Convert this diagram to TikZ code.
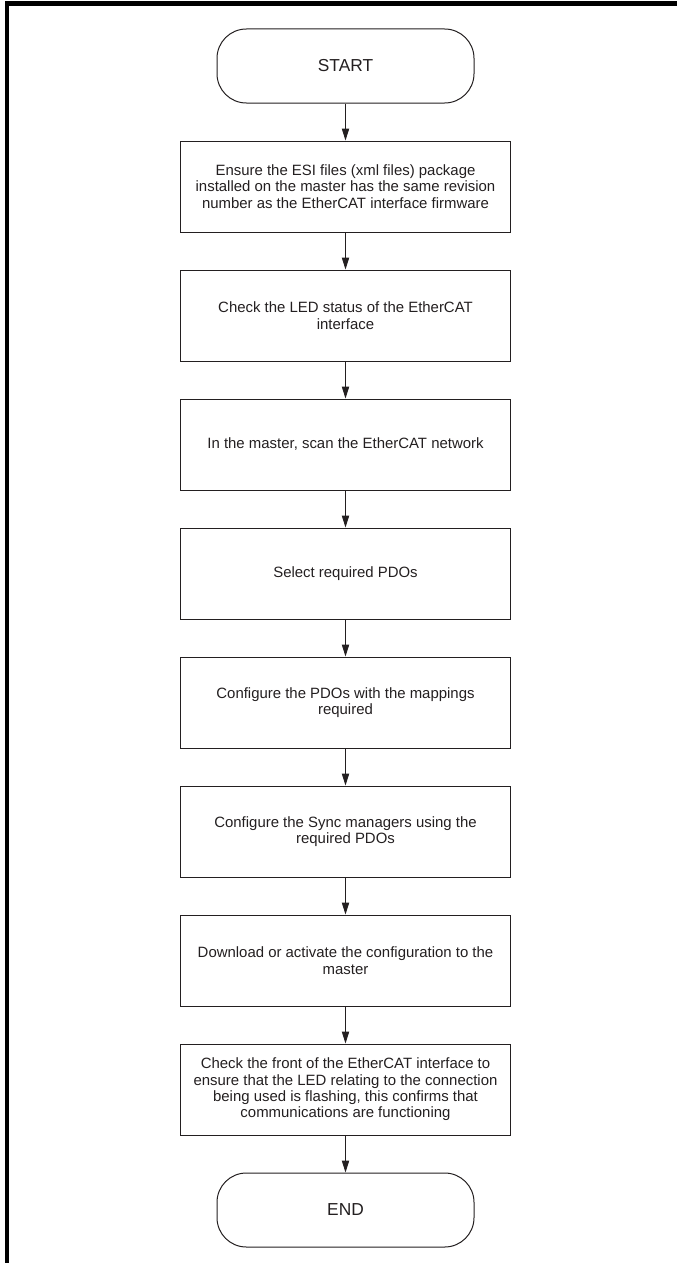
\documentclass[tikz,border=0pt]{standalone}
\usepackage{fontspec}
\setmainfont{Liberation Sans}
\usepackage{xcolor}
\usetikzlibrary{arrows.meta,positioning}
\definecolor{inkgray}{HTML}{231F20}

\begin{document}
\begin{tikzpicture}[
				x=0.75pt, y=0.75pt,
				node distance={27.75pt},
				terminal/.style = {draw=inkgray, line width=0.75pt, rounded corners=22pt, minimum width=192.75pt, minimum height=55.5pt, text=inkgray, font=\fontsize{13}{15}\selectfont},
				stepbox/.style = {draw=inkgray, line width=0.75pt, minimum width=247.5pt, minimum height=68.25pt, align=center, text=inkgray, font=\fontsize{11.2}{12.3}\selectfont},
				arrow/.style={-{Triangle[length=9pt, width=5.5pt]}, line width=0.75pt, inkgray}
				]
				
				\useasboundingbox (0,0) rectangle (677,-1263);
				\draw[line width=3.6pt] (677,-3.5) -- (7,-3.5) -- (7,-1263);
				
				\node[terminal] (start) at (345.5,-66) {START};
				\node[stepbox] (esi) [below=of start] {Ensure the ESI files (xml files) package\\installed on the master has the same revision\\number as the EtherCAT interface firmware};
				\node[stepbox] (ledstatus) [below=of esi] {Check the LED status of the EtherCAT\\interface};
				\node[stepbox] (scan) [below=of ledstatus] {In the master, scan the EtherCAT network};
				\node[stepbox] (selectpdo) [below=of scan] {Select required PDOs};
				\node[stepbox] (mappdo) [below=of selectpdo] {Configure the PDOs with the mappings\\required};
				\node[stepbox] (syncman) [below=of mappdo] {Configure the Sync managers using the\\required PDOs};
				\node[stepbox] (download) [below=of syncman] {Download or activate the configuration to the\\master};
				\node[stepbox] (checkfront) [below=of download] {Check the front of the EtherCAT interface to\\ensure that the LED relating to the connection\\being used is flashing, this confirms that\\communications are functioning};
				\node[terminal] (stop) [below=of checkfront] {END};
				
				\draw[arrow] (start) -- (esi);
				\draw[arrow] (esi) -- (ledstatus);
				\draw[arrow] (ledstatus) -- (scan);
				\draw[arrow] (scan) -- (selectpdo);
				\draw[arrow] (selectpdo) -- (mappdo);
				\draw[arrow] (mappdo) -- (syncman);
				\draw[arrow] (syncman) -- (download);
				\draw[arrow] (download) -- (checkfront);
				\draw[arrow] (checkfront) -- (stop);
			\end{tikzpicture}
\end{document}
